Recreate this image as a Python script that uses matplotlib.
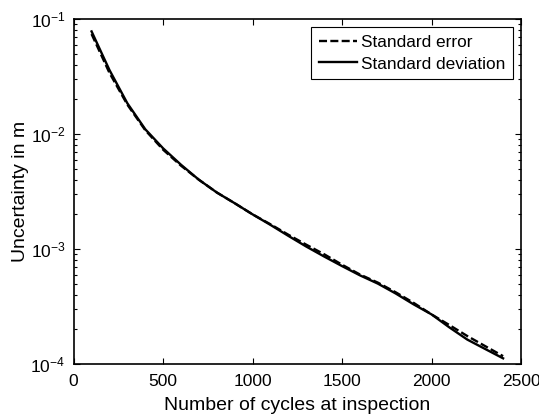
import matplotlib
matplotlib.use("Agg")
import matplotlib.pyplot as plt
from matplotlib.ticker import LogLocator, NullFormatter, FixedLocator

plt.rcParams['font.family'] = ['Liberation Sans', 'DejaVu Sans']
plt.rcParams['mathtext.fontset'] = 'custom'
plt.rcParams['mathtext.rm'] = 'Liberation Sans'
plt.rcParams['axes.unicode_minus'] = False

cycles = [100, 200, 300, 400, 500, 600, 700, 800, 900, 1000, 1100, 1200,
          1300, 1400, 1500, 1600, 1700, 1800, 1900, 2000, 2100, 2200, 2300, 2400]
std_dev = [0.078, 0.036, 0.0185, 0.0110, 0.0075, 0.0054, 0.0040, 0.0031, 0.0025,
           0.0020, 0.00162, 0.0013, 0.00105, 0.00086, 0.00071, 0.00059, 0.00050,
           0.00041, 0.00033, 0.00027, 0.000208, 0.000163, 0.000135, 0.000112]
std_err = [0.074, 0.034, 0.018, 0.0108, 0.0073, 0.0053, 0.0040, 0.0031, 0.0025,
           0.0020, 0.00164, 0.00133, 0.00109, 0.00090, 0.00073, 0.00060, 0.00051,
           0.00042, 0.00034, 0.00027, 0.000218, 0.000175, 0.000143, 0.000117]

fig = plt.figure(figsize=(5.39, 4.18), dpi=100)
ax = fig.add_axes([0.1367, 0.1292, 0.8299, 0.8253])

ax.semilogy(cycles, std_err, color='black', linestyle=(0, (3.4, 1.4)), linewidth=1.7,
            label='Standard error')
ax.semilogy(cycles, std_dev, color='black', linestyle='-', linewidth=1.7,
            label='Standard deviation')

ax.set_xlim(0, 2500)
ax.set_ylim(1e-4, 1e-1)
ax.xaxis.set_major_locator(FixedLocator([0, 500, 1000, 1500, 2000, 2500]))
ax.yaxis.set_major_locator(LogLocator(base=10, numticks=10))
ax.yaxis.set_minor_locator(LogLocator(base=10, subs=range(2, 10), numticks=10))
ax.yaxis.set_minor_formatter(NullFormatter())

ax.tick_params(which='both', direction='in', top=True, right=True, labelsize=12.5, width=0.8)
ax.tick_params(which='major', length=4)
ax.tick_params(which='minor', length=2.5)
ax.tick_params(axis='x', pad=7)
ax.tick_params(axis='y', pad=6)
for s in ax.spines.values():
    s.set_linewidth(1.2)

ax.set_xlabel('Number of cycles at inspection', fontsize=14, labelpad=6)
ax.set_ylabel('Uncertainty in m', fontsize=14, labelpad=1)

leg = ax.legend(loc='upper right', fontsize=12.4, frameon=True, fancybox=False,
                edgecolor='black', framealpha=1, borderpad=0.45, labelspacing=0.4,
                handlelength=2.2, handletextpad=0.25, borderaxespad=0.45)
leg.get_frame().set_linewidth(0.8)

fig.savefig('out.png', dpi=100)
